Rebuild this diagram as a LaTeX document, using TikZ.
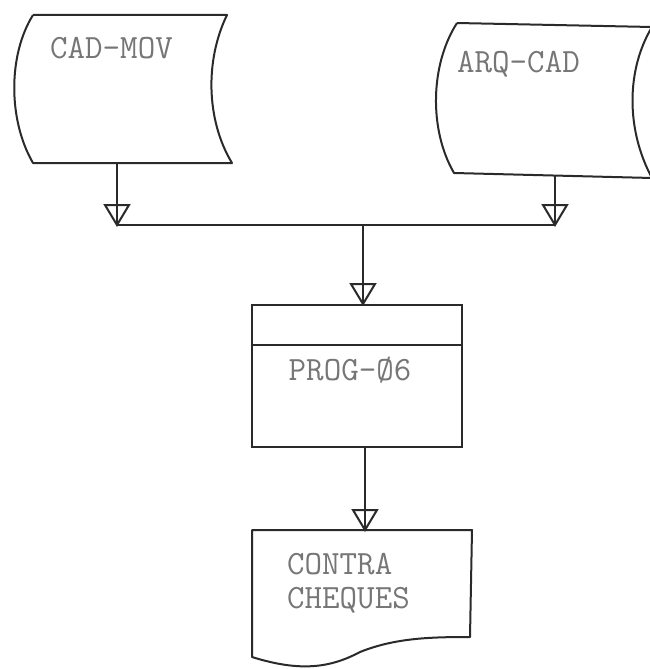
\documentclass[tikz,border=0pt]{standalone}
\usepackage{fontspec}
\usetikzlibrary{positioning}
\definecolor{ink}{HTML}{2A2A2A}
\definecolor{typ}{HTML}{767676}
\newcommand\opentri[1]{\draw[conn,line join=miter] (#1) -- ++(-12,-20) -- ++(24,0) -- cycle;}
\begin{document}
\begin{tikzpicture}[x=1pt,y=-1pt,
  conn/.style={draw=ink,line width=2pt},
  outl/.style={draw=ink,line width=2pt,line join=round},
  lbl/.style={text=typ,font=\ttfamily\fontsize{34}{30}\selectfont,inner sep=0pt}]
\useasboundingbox (0,0) rectangle (650,669);
% CAD-MOV storage
\draw[outl] (33,15) -- (227,15) .. controls (205,60) and (206,120) .. (232,163)
  -- (33,163) .. controls (8,120) and (8,55) .. (33,15);
\node[lbl,anchor=west] (cadmov) at (50,48) {CAD-MOV};
\coordinate (cadb) at (117,163);
% ARQ-CAD storage
\begin{scope}
\clip (0,0) rectangle (650,669);
\draw[outl] (457,23) -- (652,27) .. controls (626,70) and (626,130) .. (652,178)
  -- (454,173) .. controls (429,130) and (430,65) .. (457,23);
\end{scope}
\node[lbl,anchor=west] (arqcad) at (457,64) {ARQ-CAD};
\coordinate (arqb) at (555,176);
% junction
\coordinate (j1) at (117,225);
\coordinate (j2) at (555,225);
\coordinate (jm) at (363,225);
% program box
\node[draw=ink,line width=2pt,minimum width=210,minimum height=142,inner sep=0pt] (prog) at (357,376) {};
\draw[conn] (prog.north west) ++(0,41) coordinate (dl) -- (dl -| prog.east);
\node[lbl] (progtxt) at (350,370) {PROG-Ø6};
% document
\coordinate (doct) at (365,530);
\draw[outl] (252,530) -- (472,530) -- (470,637)
  .. controls (430,637) and (395,638) .. (360,652)
  .. controls (330,668) and (300,672) .. (252,657) -- cycle;
\node[lbl,anchor=base west] (doc1) at (287,574) {CONTRA};
\node[lbl,anchor=base west] (doc2) at (287,608) {CHEQUES};
% connectors
\draw[conn] (cadb) -- (j1);
\opentri{j1}
\draw[conn] (arqb) -- (j2);
\opentri{j2}
\draw[conn] (j1) -- (j2);
\draw[conn] (jm) -- (jm |- prog.north) coordinate (pn);
\opentri{pn}
\draw[conn] (prog.south -| doct) -- (doct);
\opentri{doct}
\end{tikzpicture}
\end{document}
